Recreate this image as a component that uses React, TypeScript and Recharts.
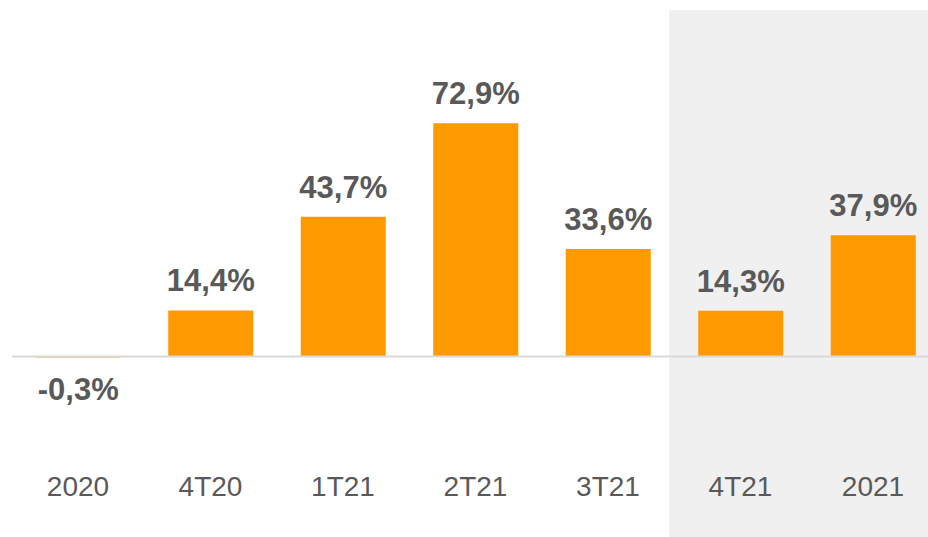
import { BarChart, Bar, XAxis, YAxis, ReferenceArea, ReferenceLine, LabelList } from 'recharts'

const periods = ['2020', '4T20', '1T21', '2T21', '3T21', '4T21', '2021']
const growth = [-0.3, 14.4, 43.7, 72.9, 33.6, 14.3, 37.9]

const data = periods.map((p, i) => ({ period: p, value: growth[i] }))

const fmt = (v: number) => `${v.toFixed(1).replace('.', ',')}%`

function ValueLabel(props: any) {
  const { x, y, width, height, value } = props
  const cx = x + width / 2
  const neg = value < 0
  const top = Math.min(y, y + height)
  const bottom = Math.max(y, y + height)
  return (
    <text
      x={cx}
      y={neg ? bottom + 43 : top - 19}
      textAnchor="middle"
      fontFamily="Liberation Sans, Arial, sans-serif"
      fontWeight="bold"
      fontSize={31}
      fill="#595959"
    >
      {fmt(value)}
    </text>
  )
}

function PeriodTick(props: any) {
  const { x, y, payload } = props
  return (
    <text
      x={x}
      y={y}
      dy={11}
      textAnchor="middle"
      fontFamily="Liberation Sans, Arial, sans-serif"
      fontSize={28}
      fill="#595959"
    >
      {payload.value}
    </text>
  )
}

// shaded block for the current-period columns, runs off the right edge
function ShadeRect(props: any) {
  const { x, y, width, height } = props
  return <rect x={x - 5} y={y} width={width + 40} height={height} fill="#f0f0f0" />
}

export default function App() {
  return (
    <div style={{ width: 928, height: 537, overflow: 'hidden' }}>
      <style>{'html,body{margin:0;overflow:hidden}'}</style>
      <BarChart
        width={948}
        height={537}
        data={data}
        margin={{ top: 36.5, right: 8.75, left: 11.75, bottom: 22.5 }}
        barCategoryGap={24}
      >
        <ReferenceArea x1="4T21" x2="2021" y1={-57} y2={108.3} ifOverflow="visible" shape={<ShadeRect />} />
        <XAxis
          dataKey="period"
          axisLine={false}
          tickLine={false}
          tickSize={0}
          tickMargin={0}
          height={30}
          interval={0}
          tick={<PeriodTick />}
        />
        <YAxis hide domain={[-40, 100]} />
        <Bar dataKey="value" fill="#ff9900" isAnimationActive={false}>
          <LabelList dataKey="value" content={<ValueLabel />} />
        </Bar>
        <ReferenceLine y={0} stroke="#d9d9d9" strokeWidth={2} ifOverflow="visible" />
      </BarChart>
    </div>
  )
}
